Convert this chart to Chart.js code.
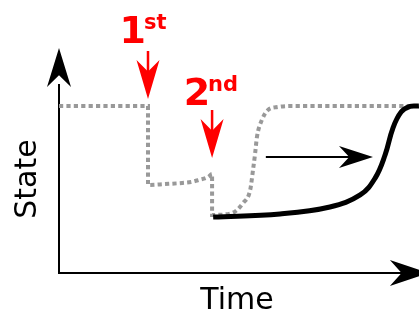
<!DOCTYPE html>
<html>
<head>
<meta charset="utf-8">
<script src="https://cdn.jsdelivr.net/npm/chart.js@4.4.0/dist/chart.umd.min.js"></script>
<style>
  body { margin: 0; background: #fff; }
  canvas { display: block; }
</style>
</head>
<body>
<canvas id="chart" width="419" height="314"></canvas>
<script>
// both axes use arbitrary units 0..100

// dotted grey trace (state before / between the two events)
const greyTime  = [0, 25, 25, 29.8, 34.6, 37.1, 39.3, 41.9, 43, 43, 48.6, 51.7, 53.7, 54.5, 55.1, 55.6, 57.0, 58.7, 61.5, 64.9, 101.1];
const greyState = [88.8, 88.8, 46.8, 47.3, 47.9, 48.4, 49.5, 51.1, 52.7, 30.9, 31.9, 37.2, 44.1, 54.8, 63.8, 72.3, 81.4, 86.7, 88.3, 88.8, 88.8];

// solid black trace (delayed recovery after 2nd event)
const blackTime  = [43.3, 62.1, 76.1, 84.6, 88.8, 91.6, 93.8, 96.1, 98.6, 101.1];
const blackState = [29.8, 31.4, 35.1, 41.5, 50.5, 62.8, 77.1, 85.6, 88.6, 88.8];

// red event markers
const eventTimes     = [25, 43];
const eventNumbers   = ['1', '2'];
const eventSuffixes  = ['st', 'nd'];
const eventArrowTop  = [118.1, 86.7];
const eventArrowEnd  = [100, 70];
const eventArrowTip  = [92.6, 61.2];
const eventLabelBase = [122.3, 89.4];

// horizontal arrow (shift in time)
const shiftTime  = [58.1, 82.5];
const shiftTip   = 88.2;
const shiftState = 61.7;

// axis arrow tips
const timeAxisTip  = 103.9;
const stateAxisTip = 119.7;

const pts = (xs, ys) => xs.map((x, i) => ({x: x, y: ys[i]}));

function drawHead(ctx, x, y, angle, len, wid, color) {
    ctx.save();
    ctx.translate(x, y);
    ctx.rotate(angle);
    ctx.beginPath();
    ctx.moveTo(0, 0);
    ctx.lineTo(-len, -wid / 2);
    ctx.lineTo(-len * 0.7, 0);
    ctx.lineTo(-len, wid / 2);
    ctx.closePath();
    ctx.fillStyle = color;
    ctx.fill();
    ctx.restore();
}

const arrowsPlugin = {
    id: 'arrows',
    afterDatasetsDraw(chart) {
        const ctx = chart.ctx;
        const xs = chart.scales.x, ys = chart.scales.y;
        const area = chart.chartArea;

        // axis heads
        drawHead(ctx, area.left, ys.getPixelForValue(stateAxisTip), -Math.PI / 2, 39, 24, '#000');
        drawHead(ctx, xs.getPixelForValue(timeAxisTip), area.bottom, 0, 39, 26, '#000');

        // shift arrow head
        drawHead(ctx, xs.getPixelForValue(shiftTip), ys.getPixelForValue(shiftState), 0, 34, 22, '#000');

        // event arrows + labels
        eventTimes.forEach((t, i) => {
            const px = xs.getPixelForValue(t);
            drawHead(ctx, px, ys.getPixelForValue(eventArrowTip[i]), Math.PI / 2, 39, 23, '#ff0000');
            const base = ys.getPixelForValue(eventLabelBase[i]);
            ctx.save();
            ctx.fillStyle = '#ff0000';
            ctx.textBaseline = 'alphabetic';
            ctx.font = 'bold 38px "DejaVu Sans"';
            ctx.textAlign = 'right';
            ctx.fillText(eventNumbers[i], px - 2, base);
            ctx.font = 'bold 21px "DejaVu Sans"';
            ctx.textAlign = 'left';
            ctx.fillText(eventSuffixes[i], px - 4, base - 14);
            ctx.restore();
        });
    }
};

const lineStyle = {pointRadius: 0, fill: false, clip: false, cubicInterpolationMode: 'monotone'};

const datasets = [
    Object.assign({}, lineStyle, {data: pts(blackTime, blackState), borderColor: '#000', borderWidth: 5,
        cubicInterpolationMode: 'default', tension: 0.4, capBezierPoints: false}),
    Object.assign({data: pts(greyTime, greyState), borderColor: '#999999', borderWidth: 4,
        borderDash: [4.2, 3.2], borderCapStyle: 'butt'}, lineStyle),
    Object.assign({data: pts(shiftTime, [shiftState, shiftState]), borderColor: '#000', borderWidth: 2}, lineStyle)
];
eventTimes.forEach((t, i) => {
    datasets.push(Object.assign({
        data: [{x: t, y: eventArrowTop[i]}, {x: t, y: eventArrowEnd[i]}],
        borderColor: '#ff0000', borderWidth: 2.5
    }, lineStyle));
});

new Chart(document.getElementById('chart'), {
    type: 'line',
    data: {datasets: datasets},
    options: {
        responsive: false,
        animation: false,
        events: [],
        layout: {padding: {top: 85, right: 4, left: 0, bottom: 0}},
        plugins: {legend: {display: false}, tooltip: {enabled: false}},
        scales: {
            x: {
                type: 'linear', min: 0, max: 100,
                grid: {display: false, drawTicks: false},
                ticks: {display: false},
                border: {display: true, color: '#000', width: 2},
                title: {display: true, text: 'Time', color: '#000',
                    font: {family: 'DejaVu Sans', size: 30, lineHeight: 1},
                    padding: {top: 13, bottom: -2}}
            },
            y: {
                type: 'linear', min: 0, max: 100,
                grid: {display: false, drawTicks: false},
                ticks: {display: false},
                border: {display: true, color: '#000', width: 2},
                title: {display: true, text: 'State', color: '#000',
                    font: {family: 'DejaVu Sans', size: 30, lineHeight: 1},
                    padding: {top: 13.5, bottom: 15.5}}
            }
        }
    },
    plugins: [arrowsPlugin]
});
</script>
</body>
</html>
